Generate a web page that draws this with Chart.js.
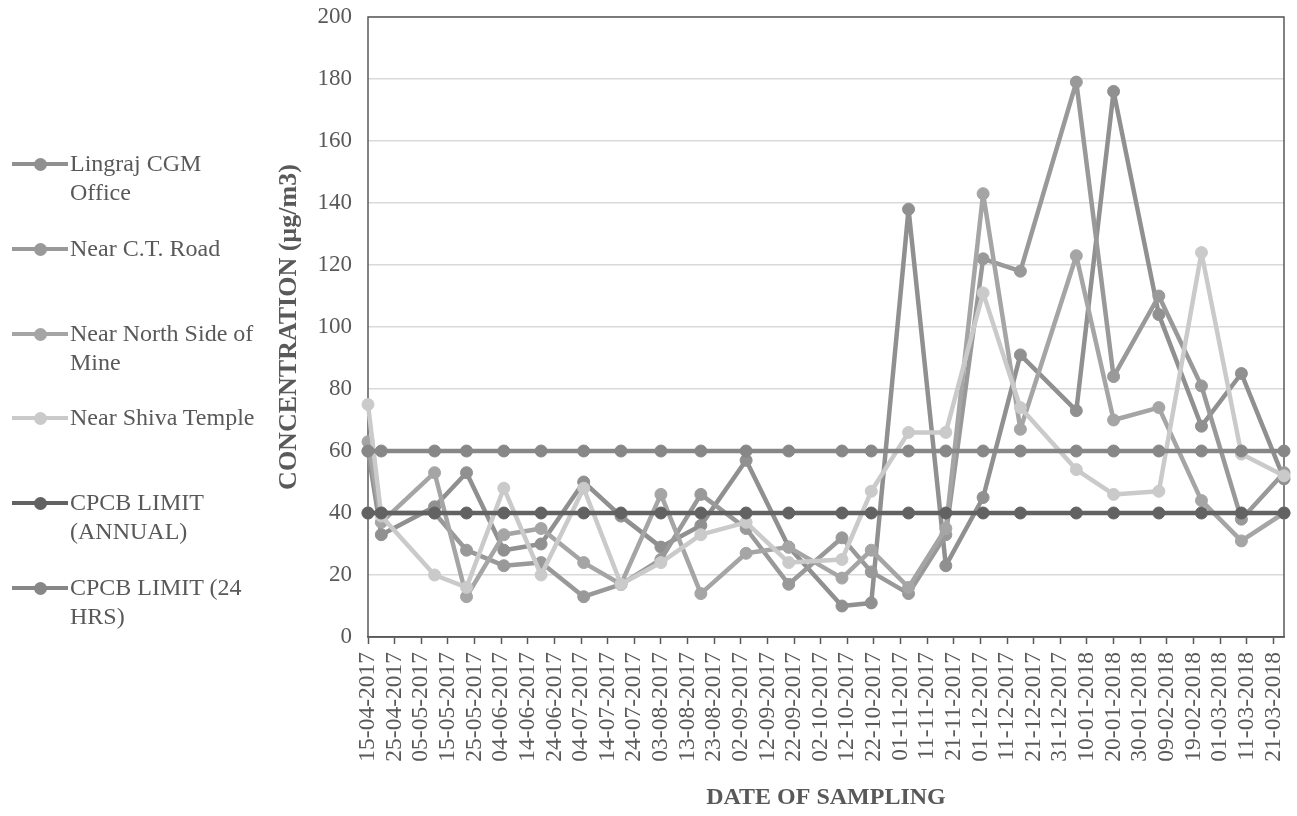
<!DOCTYPE html>
<html>
<head>
<meta charset="utf-8">
<title>Concentration by date of sampling</title>
<script src="https://cdn.jsdelivr.net/npm/chart.js@4.4.1/dist/chart.umd.min.js"></script>
<style>
  html, body { margin: 0; padding: 0; background: #ffffff; }
  #wrap { position: relative; width: 1297px; height: 816px; overflow: hidden; }
  #chart { position: absolute; left: 0; top: 0; }
  #legend {
    position: absolute; left: 0; top: 0;
    font-family: "Liberation Serif", "Times New Roman", serif;
    font-size: 24px; color: #595959;
  }
  .item { position: absolute; left: 12px; display: flex; align-items: flex-start; }
  .sym { position: relative; width: 56px; height: 29px; flex: none; }
  .sym .ln { position: absolute; left: 0; right: 0; top: 12.5px; height: 4.5px; }
  .sym .dot { position: absolute; left: 21.5px; top: 8.5px; width: 13px; height: 13px; border-radius: 50%; }
  .txt { margin-left: 2px; line-height: 29px; white-space: nowrap; }
</style>
</head>
<body>
<div id="wrap">
  <canvas id="chart" width="1297" height="816"></canvas>
  <div id="legend"></div>
</div>
<script>
// Sampling dates (dd-mm-yyyy on the axis)
const sampleDates = [
  '2017-04-15', '2017-04-20', '2017-05-10', '2017-05-22', '2017-06-05', '2017-06-19',
  '2017-07-05', '2017-07-19', '2017-08-03', '2017-08-18', '2017-09-04', '2017-09-20',
  '2017-10-10', '2017-10-21', '2017-11-04', '2017-11-18', '2017-12-02', '2017-12-16',
  '2018-01-06', '2018-01-20', '2018-02-06', '2018-02-22', '2018-03-09', '2018-03-25'
];

// Concentrations (µg/m3) per sampling station
const lingrajCGM    = [60, 33, 42, 53, 28, 30, 50, 39, 29, 36, 57, 29, 10, 11, 138, 23, 45, 91, 73, 176, 104, 68, 85, 51];
const nearCTRoad    = [40, 40, 40, 28, 23, 24, 13, 17, 25, 46, 35, 17, 32, 21, 14, 33, 122, 118, 179, 84, 110, 81, 38, 53];
const northSideMine = [63, 37, 53, 13, 33, 35, 24, 17, 46, 14, 27, 29, 19, 28, 16, 35, 143, 67, 123, 70, 74, 44, 31, 40];
const shivaTemple   = [75, 39, 20, 16, 48, 20, 48, 17, 24, 33, 37, 24, 25, 47, 66, 66, 111, 74, 54, 46, 47, 124, 59, 52];

// CPCB limits
const cpcbAnnual = [40, 40, 40, 40, 40, 40, 40, 40, 40, 40, 40, 40, 40, 40, 40, 40, 40, 40, 40, 40, 40, 40, 40, 40];
const cpcb24Hrs  = [60, 60, 60, 60, 60, 60, 60, 60, 60, 60, 60, 60, 60, 60, 60, 60, 60, 60, 60, 60, 60, 60, 60, 60];

// Legend labels (line breaks as wrapped in the legend)
const seriesNames = [
  ['Lingraj CGM', 'Office'],
  ['Near C.T. Road'],
  ['Near North Side of', 'Mine'],
  ['Near Shiva Temple'],
  ['CPCB LIMIT', '(ANNUAL)'],
  ['CPCB LIMIT (24', 'HRS)']
];
const seriesValues = [lingrajCGM, nearCTRoad, northSideMine, shivaTemple, cpcbAnnual, cpcb24Hrs];
const seriesColors = ['#909090', '#999999', '#a5a5a5', '#cacaca', '#626262', '#878787'];

// Axis settings
const yMin = 0, yMax = 200, yStep = 20;
const xStepDays = 10;
const yTitle = 'CONCENTRATION (µg/m3)';
const xTitle = 'DATE OF SAMPLING';

const DAY = 86400000;
const origin = Date.parse(sampleDates[0] + 'T00:00:00Z');
const dayOf = s => Math.round((Date.parse(s + 'T00:00:00Z') - origin) / DAY);
const fmtDay = v => {
  const d = new Date(origin + v * DAY);
  const dd = String(d.getUTCDate()).padStart(2, '0');
  const mm = String(d.getUTCMonth() + 1).padStart(2, '0');
  return dd + '-' + mm + '-' + d.getUTCFullYear();
};

const FONT = "'Liberation Serif', 'Times New Roman', serif";
const INK = '#595959';
Chart.defaults.font.family = FONT;
Chart.defaults.color = INK;

const datasets = seriesValues.map((vals, i) => ({
  label: seriesNames[i].join(' '),
  data: sampleDates.map((d, k) => ({ x: dayOf(d), y: vals[k] })),
  borderColor: seriesColors[i],
  backgroundColor: seriesColors[i],
  pointBackgroundColor: seriesColors[i],
  pointBorderColor: seriesColors[i],
  borderWidth: 4.5,
  pointRadius: 6,
  pointBorderWidth: 1,
  pointHoverRadius: 6,
  borderJoinStyle: 'round',
  borderCapStyle: 'round',
  tension: 0,
  fill: false,
  clip: false,
  order: seriesValues.length - 1 - i
}));

// Plot-area outline, drawn beneath the series
const plotFrame = {
  id: 'plotFrame',
  beforeDatasetsDraw(chart) {
    const { ctx, chartArea: a } = chart;
    ctx.save();
    ctx.strokeStyle = INK;
    ctx.lineWidth = 1.5;
    ctx.strokeRect(a.left, a.top, a.right - a.left, a.bottom - a.top);
    ctx.restore();
  }
};

// Fixed scale boxes: the layout padding alone places the plot area
const fixBox = size => s => {
  if (s.isHorizontal()) s.height = size; else s.width = size;
  s.paddingTop = 0; s.paddingBottom = 0; s.paddingLeft = 0; s.paddingRight = 0;
};

const chart = new Chart(document.getElementById('chart'), {
  type: 'line',
  data: { datasets },
  plugins: [plotFrame],
  options: {
    responsive: false,
    animation: false,
    devicePixelRatio: 1,
    layout: { padding: { left: 270, top: 17, right: 13, bottom: 0 } },
    plugins: { legend: { display: false }, tooltip: { enabled: false } },
    scales: {
      x: {
        type: 'linear',
        min: 0,
        max: dayOf(sampleDates[sampleDates.length - 1]),
        afterFit: fixBox(179),
        ticks: {
          stepSize: xStepDays,
          includeBounds: false,
          autoSkip: false,
          minRotation: 90,
          maxRotation: 90,
          padding: 8,
          color: INK,
          font: { size: 23.5 },
          callback: v => fmtDay(v)
        },
        grid: { drawOnChartArea: false, drawTicks: true, tickLength: 7, tickColor: INK, tickWidth: 1.5 },
        border: { display: true, color: INK, width: 1.5 },
        title: { display: true, text: xTitle, color: INK, font: { size: 24, weight: 'bold' } }
      },
      y: {
        min: yMin,
        max: yMax,
        afterFit: fixBox(98),
        ticks: { stepSize: yStep, padding: 16, color: INK, font: { size: 23 } },
        grid: { color: '#d9d9d9', lineWidth: 1.5, drawTicks: false },
        border: { display: false },
        title: { display: true, text: yTitle, color: INK, font: { size: 26, weight: 'bold' } }
      }
    }
  }
});

// Legend on the left side
const legendTops = [149, 234, 319, 403, 488, 573];
const legend = document.getElementById('legend');
seriesNames.forEach((lines, i) => {
  const item = document.createElement('div');
  item.className = 'item';
  item.style.top = legendTops[i] + 'px';
  const sym = document.createElement('div');
  sym.className = 'sym';
  const ln = document.createElement('div');
  ln.className = 'ln';
  ln.style.background = seriesColors[i];
  const dot = document.createElement('div');
  dot.className = 'dot';
  dot.style.background = seriesColors[i];
  sym.appendChild(ln);
  sym.appendChild(dot);
  const txt = document.createElement('div');
  txt.className = 'txt';
  lines.forEach((t, k) => {
    if (k) txt.appendChild(document.createElement('br'));
    txt.appendChild(document.createTextNode(t));
  });
  item.appendChild(sym);
  item.appendChild(txt);
  legend.appendChild(item);
});
</script>
</body>
</html>
